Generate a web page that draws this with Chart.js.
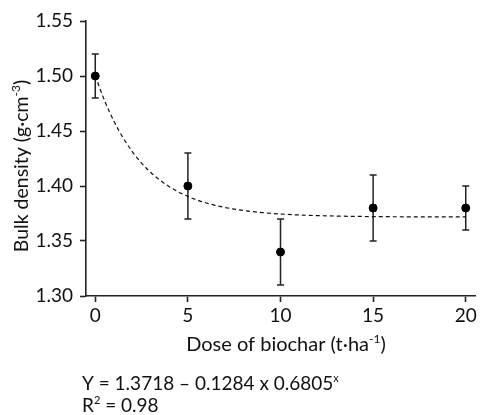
<!DOCTYPE html>
<html><head><meta charset="utf-8">
<script src="https://cdn.jsdelivr.net/npm/chart.js@4/dist/chart.umd.min.js"></script>
<style>html,body{margin:0;padding:0;background:#fff}</style>
</head><body>
<canvas id="c" width="480" height="415"></canvas>
<script>
// ---- data ----
const doses = [0, 5, 10, 15, 20];
const bulkDensity = [1.50, 1.40, 1.34, 1.38, 1.38];
const errLow = [1.48, 1.37, 1.31, 1.35, 1.36];
const errHigh = [1.52, 1.43, 1.37, 1.41, 1.40];
const xTicks = [0, 5, 10, 15, 20];
const yTicks = [1.30, 1.35, 1.40, 1.45, 1.50, 1.55];
// fitted model shown on the chart: Y = a + b * c^x
const fitA = 1.3718, fitB = 0.1284, fitC = 0.6805;
const fitXs = [0,0.5,1,1.5,2,2.5,3,3.5,4,4.5,5,5.5,6,6.5,7,7.5,8,8.5,9,9.5,10,11,12,13,14,15,16,17,18,19,20];

const FONT = 'Lato, "Open Sans", sans-serif';
const INK = '#111';

function richText(ctx, parts, x, y, size) {
  let cx = x;
  for (const p of parts) {
    if (p.sup) {
      ctx.font = `${Math.round(size*0.6)}px ${FONT}`;
      ctx.fillText(p.t, cx, y - size*0.42);
    } else {
      ctx.font = `${size}px ${FONT}`;
      ctx.fillText(p.t, cx, y);
    }
    cx += ctx.measureText(p.t).width;
  }
  return cx - x;
}
function richWidth(ctx, parts, size) {
  let w = 0;
  for (const p of parts) {
    ctx.font = p.sup ? `${Math.round(size*0.6)}px ${FONT}` : `${size}px ${FONT}`;
    w += ctx.measureText(p.t).width;
  }
  return w;
}

const errorBars = {
  id: 'errorBars',
  beforeDatasetsDraw(chart) {
    const {ctx, scales: {x, y}} = chart;
    ctx.save();
    ctx.strokeStyle = '#222';
    ctx.lineWidth = 1.5;
    for (let i = 0; i < doses.length; i++) {
      const px = x.getPixelForValue(doses[i]);
      const yl = y.getPixelForValue(errLow[i]);
      const yh = y.getPixelForValue(errHigh[i]);
      ctx.beginPath();
      ctx.moveTo(px, yl); ctx.lineTo(px, yh);
      ctx.moveTo(px - 3.5, yl); ctx.lineTo(px + 3.5, yl);
      ctx.moveTo(px - 3.5, yh); ctx.lineTo(px + 3.5, yh);
      ctx.stroke();
    }
    ctx.restore();
  }
};

const labels = {
  id: 'labels',
  afterDraw(chart) {
    const {ctx} = chart;
    ctx.save();
    ctx.fillStyle = INK;
    ctx.textBaseline = 'alphabetic';
    ctx.textAlign = 'left';
    // x title
    const xt = [{t:'Dose of biochar (t·ha'},{t:'-1',sup:true},{t:')'}];
    const xw = richWidth(ctx, xt, 20);
    richText(ctx, xt, 286 - xw/2, 351, 20);
    // y title
    const yt = [{t:'Bulk density (g·cm'},{t:'-3',sup:true},{t:')'}];
    const yw = richWidth(ctx, yt, 19.5);
    ctx.save();
    ctx.translate(28, 166);
    ctx.rotate(-Math.PI/2);
    richText(ctx, yt, -yw/2, 0, 19.5);
    ctx.restore();
    // equation
    richText(ctx, [{t:'Y = 1.3718 – 0.1284 x 0.6805'},{t:'x',sup:true}], 82, 390, 19);
    richText(ctx, [{t:'R'},{t:'2',sup:true},{t:' = 0.98'}], 82, 412, 19);
    ctx.restore();
  }
};

const axisCommon = {
  border: {display: true, color: '#222', width: 1.6},
  grid: {display: true, drawOnChartArea: false, drawTicks: true, tickLength: 6, tickColor: '#222', tickWidth: 1.6},
};

new Chart(document.getElementById('c'), {
  type: 'scatter',
  data: {
    datasets: [
      {
        label: 'Bulk density',
        data: doses.map((d, i) => ({x: d, y: bulkDensity[i]})),
        backgroundColor: '#000',
        borderColor: '#000',
        pointRadius: 4,
        pointHoverRadius: 4,
        order: 0
      },
      {
        label: 'Fit',
        data: fitXs.map(v => ({x: v, y: fitA + fitB * Math.pow(fitC, v)})),
        showLine: true,
        borderColor: '#111',
        borderWidth: 1.2,
        borderDash: [4, 3],
        pointRadius: 0,
        cubicInterpolationMode: 'monotone',
        order: 1
      }
    ]
  },
  options: {
    responsive: false,
    animation: false,
    devicePixelRatio: 1,
    layout: {padding: {left: 0, right: 2, top: 21, bottom: 0}},
    plugins: {legend: {display: false}, tooltip: {enabled: false}},
    scales: {
      x: {
        type: 'linear', min: -0.5, max: 20.5,
        ...axisCommon,
        afterBuildTicks: s => { s.ticks = xTicks.map(v => ({value: v})); },
        afterFit: s => { s.height = 119; },
        ticks: {color: INK, font: {family: FONT, size: 19}, padding: 2, maxRotation: 0, autoSkip: false},
        title: {display: false}
      },
      y: {
        type: 'linear', min: 1.30, max: 1.55,
        ...axisCommon,
        afterBuildTicks: s => { s.ticks = yTicks.map(v => ({value: v})); },
        afterFit: s => { s.width = 86; },
        ticks: {color: INK, font: {family: FONT, size: 19}, padding: 7, callback: v => v.toFixed(2)},
        title: {display: false}
      }
    }
  },
  plugins: [errorBars, labels]
});
</script>
</body></html>
